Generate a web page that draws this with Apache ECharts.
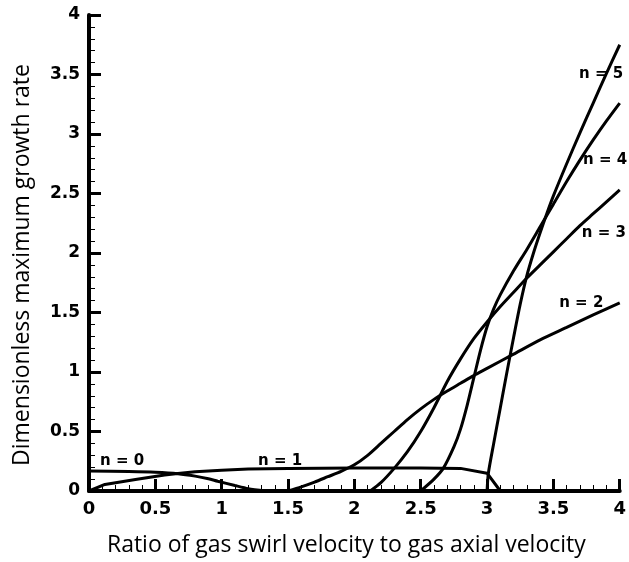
<!DOCTYPE html>
<html>
<head>
<meta charset="utf-8">
<script src="https://cdn.jsdelivr.net/npm/echarts@6/dist/echarts.min.js"></script>
<style>
  html, body { margin: 0; padding: 0; background: #fff; }
  #chart { width: 629px; height: 562px; }
</style>
</head>
<body>
<div id="chart"></div>
<script>
// Maximum growth rate vs. swirl ratio, one curve per azimuthal mode n
const xTitle = 'Ratio of gas swirl velocity to gas axial velocity';
const yTitle = 'Dimensionless maximum growth rate';

const mode0 = [[0, 0.168], [0.3, 0.163], [0.5, 0.157], [0.67, 0.145], [0.8, 0.125], [0.9, 0.103], [0.97, 0.082], [1.1, 0.046], [1.2, 0.02], [1.33, 0]];
const mode1 = [[0, 0], [0.12, 0.055], [0.35, 0.096], [0.57, 0.135], [0.67, 0.148], [0.8, 0.162], [1.0, 0.175], [1.2, 0.184], [1.5, 0.19], [2.0, 0.194], [2.5, 0.194], [2.8, 0.19], [3.0, 0.15], [3.1, 0]];
const mode2 = [[1.5, 0], [1.6, 0.035], [1.7, 0.075], [1.8, 0.12], [1.9, 0.165], [2.0, 0.22], [2.1, 0.3], [2.2, 0.4], [2.3, 0.5], [2.4, 0.6], [2.5, 0.69], [2.6, 0.77], [2.7, 0.84], [2.8, 0.905], [2.9, 0.97], [3.0, 1.03], [3.2, 1.15], [3.4, 1.27], [3.6, 1.375], [3.8, 1.48], [4.0, 1.58]];
const mode3 = [[2.12, 0], [2.2, 0.07], [2.3, 0.19], [2.4, 0.33], [2.5, 0.5], [2.6, 0.7], [2.7, 0.92], [2.8, 1.11], [2.9, 1.28], [3.0, 1.42], [3.1, 1.55], [3.2, 1.67], [3.3, 1.79], [3.4, 1.9], [3.5, 2.01], [3.6, 2.12], [3.7, 2.23], [3.8, 2.33], [3.9, 2.43], [4.0, 2.53]];
const mode4 = [[2.5, 0], [2.6, 0.1], [2.67, 0.19], [2.75, 0.37], [2.8, 0.52], [2.85, 0.72], [2.9, 0.95], [2.95, 1.18], [3.0, 1.38], [3.05, 1.53], [3.1, 1.65], [3.2, 1.85], [3.3, 2.03], [3.4, 2.22], [3.5, 2.41], [3.6, 2.6], [3.7, 2.78], [3.8, 2.95], [3.9, 3.11], [4.0, 3.26]];
const mode5 = [[3.0, 0], [3.01, 0.15], [3.05, 0.4], [3.1, 0.7], [3.15, 1.0], [3.2, 1.29], [3.25, 1.57], [3.3, 1.81], [3.35, 2.0], [3.4, 2.17], [3.45, 2.33], [3.5, 2.48], [3.6, 2.75], [3.7, 3.01], [3.8, 3.26], [3.9, 3.51], [4.0, 3.75]];

const modeNames = ['n = 0', 'n = 1', 'n = 2', 'n = 3', 'n = 4', 'n = 5'];
const modeData = [mode0, mode1, mode2, mode3, mode4, mode5];
// where each curve's tag sits, in data units
const tagAt = [[0.25, 0.25], [1.44, 0.25], [3.71, 1.58], [3.88, 2.17], [3.89, 2.78], [3.86, 3.5]];

const chart = echarts.init(document.getElementById('chart'));

const labelFont = 'DejaVu Sans, Liberation Sans, sans-serif';
const titleFont = 'Open Sans, Noto Sans, sans-serif';

const series = modeData.map((d, i) => ({
  type: 'line',
  name: modeNames[i],
  data: d,
  showSymbol: false,
  smooth: i === 1 ? false : 0.25,
  lineStyle: { color: '#000', width: 3 },
  silent: true,
  animation: false,
  markPoint: {
    symbol: 'circle',
    symbolSize: 0,
    silent: true,
    data: [{ coord: tagAt[i] }],
    label: {
      show: true,
      position: 'inside',
      formatter: modeNames[i],
      color: '#000',
      fontFamily: labelFont,
      fontWeight: 'bold',
      fontSize: 15
    }
  }
}));

chart.setOption({
  backgroundColor: '#fff',
  animation: false,
  grid: { left: 89, right: 9, top: 15, bottom: 62, containLabel: false },
  xAxis: {
    type: 'value',
    min: 0, max: 4, interval: 0.5,
    name: xTitle,
    nameLocation: 'middle',
    nameGap: 43,
    nameTextStyle: { fontFamily: titleFont, fontSize: 23, color: '#000', padding: [0, 16, 0, 0] },
    axisLine: { show: true, lineStyle: { color: '#000', width: 4 } },
    axisTick: { show: true, inside: true, length: 12, lineStyle: { color: '#000', width: 3 } },
    minorTick: { show: true, splitNumber: 5, length: 6, lineStyle: { color: '#000', width: 1 } },
    splitLine: { show: false },
    axisLabel: {
      color: '#000', fontFamily: labelFont, fontWeight: 'bold', fontSize: 18, margin: 9,
      formatter: v => String(v)
    }
  },
  yAxis: {
    type: 'value',
    min: 0, max: 4, interval: 0.5,
    name: yTitle,
    nameLocation: 'middle',
    nameGap: 55,
    nameTextStyle: { fontFamily: titleFont, fontSize: 23, color: '#000', padding: [0, 24, 0, 0] },
    axisLine: { show: true, lineStyle: { color: '#000', width: 4 } },
    axisTick: { show: true, inside: true, length: 12, lineStyle: { color: '#000', width: 3 } },
    minorTick: { show: true, splitNumber: 5, length: 6, lineStyle: { color: '#000', width: 1 } },
    splitLine: { show: false },
    axisLabel: {
      color: '#000', fontFamily: labelFont, fontWeight: 'bold', fontSize: 17, margin: 9,
      formatter: v => String(v)
    }
  },
  series: series
});
</script>
</body>
</html>
